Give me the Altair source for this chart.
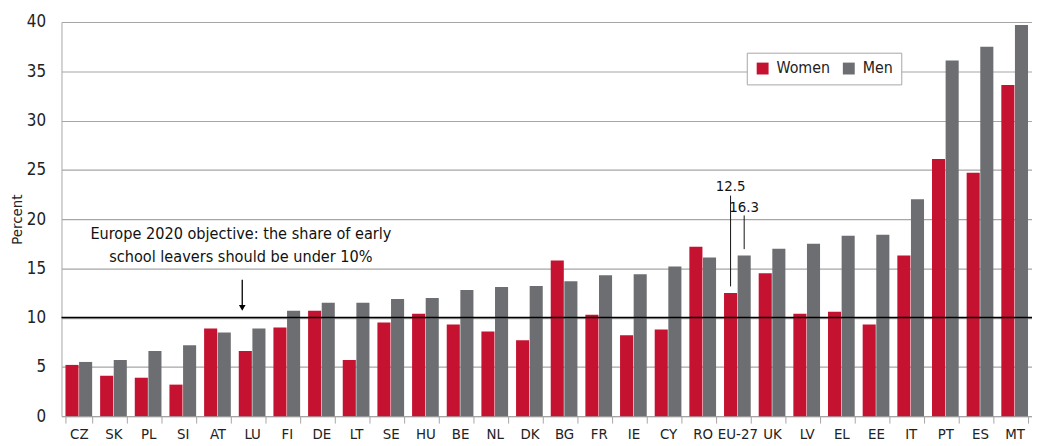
import altair as alt
import pandas as pd

countries = ["CZ", "SK", "PL", "SI", "AT", "LU", "FI", "DE", "LT", "SE", "HU", "BE", "NL", "DK",
             "BG", "FR", "IE", "CY", "RO", "EU-27", "UK", "LV", "EL", "EE", "IT", "PT", "ES", "MT"]
women = [5.2, 4.1, 3.9, 3.2, 8.9, 6.6, 9.0, 10.7, 5.7, 9.5, 10.4, 9.3, 8.6, 7.7,
         15.8, 10.3, 8.2, 8.8, 17.2, 12.5, 14.5, 10.4, 10.6, 9.3, 16.3, 26.1, 24.7, 33.6]
men = [5.5, 5.7, 6.6, 7.2, 8.5, 8.9, 10.7, 11.5, 11.5, 11.9, 12.0, 12.8, 13.1, 13.2,
       13.7, 14.3, 14.4, 15.2, 16.1, 16.3, 17.0, 17.5, 18.3, 18.4, 22.0, 36.1, 37.5, 39.7]
series = ["Women", "Men"]
colors = ["#C41230", "#6D6E71"]
y_ticks = [0, 5, 10, 15, 20, 25, 30, 35, 40]
target = 10

FONT = "DejaVu Sans Condensed, Roboto Condensed, Liberation Sans Narrow, Roboto, sans-serif"

rows = []
for c, w, m in zip(countries, women, men):
    rows.append({"country": c, "sex": "Women", "value": w})
    rows.append({"country": c, "sex": "Men", "value": m})
df = pd.DataFrame(rows)

x_scale = alt.Scale(paddingInner=0.23, paddingOuter=0.115)
off_scale = alt.Scale(paddingInner=0.04, paddingOuter=0)
y_scale = alt.Scale(domain=[0, 40], nice=False, zero=True)

bars = alt.Chart(df).mark_bar().encode(
    x=alt.X("country:N", sort=countries, scale=x_scale,
            axis=alt.Axis(title="", tickBand="extent", tickSize=7, tickColor="#A6A6A6",
                          domainColor="#A6A6A6", labelFontSize=15, labelPadding=4,
                          labelColor="#222222", labelFont=FONT, labelAngle=0, grid=False)),
    xOffset=alt.XOffset("sex:N", sort=series, scale=off_scale),
    y=alt.Y("value:Q", scale=y_scale,
            axis=alt.Axis(title="Percent", values=y_ticks, ticks=False, grid=True,
                          gridColor="#A6A6A6", gridWidth=1.2, domainColor="#A6A6A6",
                          labelFontSize=17, labelPadding=16, labelColor="#222222",
                          labelFont=FONT, titleFont=FONT, titleFontSize=15,
                          titleFontWeight="normal", titleColor="#222222", titlePadding=2)),
    color=alt.Color("sex:N", sort=series, scale=alt.Scale(domain=series, range=colors),
                    legend=alt.Legend(title=None, orient="none", legendX=692, legendY=31,
                                      direction="horizontal", symbolType="square",
                                      symbolSize=144, symbolStrokeWidth=0, labelFontSize=16,
                                      labelFont=FONT, labelColor="#222222", labelOffset=6,
                                      columnPadding=10, padding=8, strokeColor="#A6A6A6",
                                      fillColor="white")),
)

target_rule = alt.Chart(pd.DataFrame({"y": [target]})).mark_rule(
    color="black", strokeWidth=1.5).encode(y=alt.Y("y:Q", scale=y_scale))

note_df = pd.DataFrame({
    "country": ["LU", "LU"],
    "y": [17.96, 15.68],
    "text": ["Europe 2020 objective: the share of early", "school leavers should be under 10%"],
})
note = alt.Chart(note_df).mark_text(font=FONT, fontSize=16.3, color="#111111",
                                    baseline="alphabetic", align="center").encode(
    x=alt.X("country:N", sort=countries, scale=x_scale, bandPosition=0.08),
    y=alt.Y("y:Q", scale=y_scale),
    text="text:N",
)

arrow_df = pd.DataFrame({"country": ["LU"], "y1": [13.84], "y2": [11.1], "tip": [11.0]})
arrow_line = alt.Chart(arrow_df).mark_rule(color="black", strokeWidth=1.3).encode(
    x=alt.X("country:N", sort=countries, scale=x_scale, bandPosition=0.13),
    y=alt.Y("y1:Q", scale=y_scale),
    y2="y2:Q",
)
arrow_head = alt.Chart(arrow_df).mark_point(shape="triangle-down", filled=True, color="black",
                                            size=45, opacity=1).encode(
    x=alt.X("country:N", sort=countries, scale=x_scale, bandPosition=0.13),
    y=alt.Y("tip:Q", scale=y_scale),
)

eu_df = pd.DataFrame({
    "country": ["EU-27", "EU-27"],
    "sex": ["Women", "Men"],
    "label": ["12.5", "16.3"],
    "ty": [22.8, 20.7],
    "l1": [22.38, 20.37],
    "l2": [13.17, 16.95],
})
eu_lines = alt.Chart(eu_df).mark_rule(color="#111111", strokeWidth=1).encode(
    x=alt.X("country:N", sort=countries, scale=x_scale),
    xOffset=alt.XOffset("sex:N", sort=series, scale=off_scale),
    y=alt.Y("l1:Q", scale=y_scale),
    y2="l2:Q",
)
eu_text = alt.Chart(eu_df).mark_text(font=FONT, fontSize=15, color="#111111",
                                     baseline="alphabetic", align="center").encode(
    x=alt.X("country:N", sort=countries, scale=x_scale),
    xOffset=alt.XOffset("sex:N", sort=series, scale=off_scale),
    y=alt.Y("ty:Q", scale=y_scale),
    text="label:N",
)

chart = alt.layer(bars, target_rule, note, arrow_line, arrow_head, eu_lines, eu_text).properties(
    width=980, height=398,
    background="white",
    autosize=alt.AutoSizeParams(type="none"),
    padding={"left": 54, "top": 12, "right": 0, "bottom": 28},
).configure_view(stroke=None)

chart.save("out.html", embed_options={"renderer": "svg", "actions": False})
